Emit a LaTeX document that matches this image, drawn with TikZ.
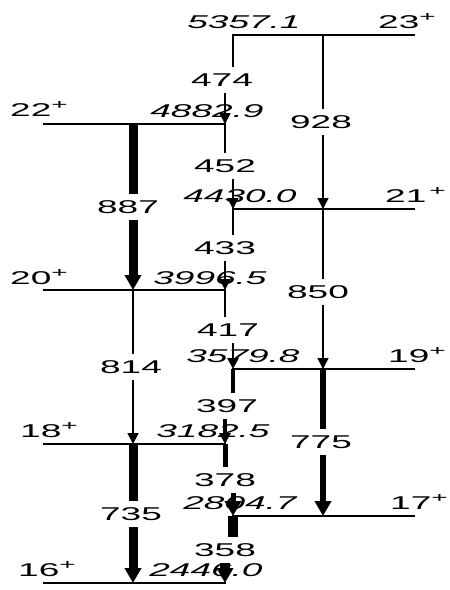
\documentclass[tikz,border=0pt]{standalone}
\usepackage{fontspec}
\setmainfont{Liberation Sans}[FakeStretch=2.0]
\usetikzlibrary{arrows.meta}
\newcommand\upplus{\raisebox{7pt}{\fontsize{14}{14}\selectfont +}}
\begin{document}
\begin{tikzpicture}[x=1pt,y=-1pt,
  lev/.style={line width=1.3pt},
  en/.style={font=\fontsize{18.5}{18}\selectfont\itshape, anchor=base, inner sep=0pt},
  spin/.style={font=\fontsize{18.5}{18}\selectfont, anchor=base west, inner sep=0pt},
  tlab/.style={font=\fontsize{18.5}{18}\selectfont, inner xsep=0pt, inner ysep=6pt, text height=13pt, text depth=0pt},
  tr/.style={line width=#1},
  tr/.default=1.7pt,
  tip/.style={-{Triangle[length=11pt,width=11pt]}},
  tipbig/.style={-{Triangle[length=15pt,width=16pt]}}]
\useasboundingbox (0,0) rectangle (450,590);
% level coordinates
\coordinate (a23) at (232,35);  \coordinate (b23) at (415,35);
\coordinate (a22) at (43,124);  \coordinate (b22) at (226,124);
\coordinate (a21) at (232,209); \coordinate (b21) at (415,209);
\coordinate (a20) at (43,290);  \coordinate (b20) at (226,290);
\coordinate (a19) at (232,369); \coordinate (b19) at (415,369);
\coordinate (a18) at (43,444);  \coordinate (b18) at (226,444);
\coordinate (a17) at (232,516); \coordinate (b17) at (415,516);
\coordinate (a16) at (43,583);  \coordinate (b16) at (226,583);
% transition end points
\coordinate (r23) at (323,35);  \coordinate (r21) at (323,209);
\coordinate (r19) at (323,369); \coordinate (r17) at (323,516);
\coordinate (l22) at (133,124); \coordinate (l20) at (133,290);
\coordinate (l18) at (133,444); \coordinate (l16) at (133,583);
\coordinate (c23) at (233,35);  \coordinate (c22) at (225,124);
\coordinate (c21) at (233,209); \coordinate (c20) at (225,290);
\coordinate (c19) at (233,369); \coordinate (c18) at (225,444);
\coordinate (c17) at (233,516); \coordinate (c16) at (225,583);
% energy labels
\node[en] (e23) at (244,28) {5357.1};
\node[en] (e22) at (207,117) {4882.9};
\node[en] (e21) at (240,202) {4430.0};
\node[en] (e20) at (210,284) {3996.5};
\node[en] (e19) at (243,362) {3579.8};
\node[en] (e18) at (213,437) {3182.5};
\node[en] (e17) at (240,509) {2804.7};
\node[en] (e16) at (206,576) {2446.0};
% spin labels
\node[spin] (s23) at (378,28) {23\upplus};
\node[spin] (s22) at (10,116) {22\upplus};
\node[spin] (s21) at (385,202) {21\,\upplus};
\node[spin] (s20) at (10,284) {20\upplus};
\node[spin] (s19) at (388,362) {19\upplus};
\node[spin] (s18) at (20,437) {18\upplus};
\node[spin] (s17) at (390,509) {17\upplus};
\node[spin] (s16) at (18,576) {16\upplus};
% levels
\foreach \k in {23,22,21,20,19,18,17,16} \draw[lev] (a\k) -- (b\k);
% transition labels
\node[tlab] (g928) at (321,122) {928};
\node[tlab] (g850) at (318,292) {850};
\node[tlab] (g775) at (321,442) {775};
\node[tlab] (g887) at (128,207) {887};
\node[tlab] (g814) at (131,367) {814};
\node[tlab] (g735) at (131,514) {735};
\node[tlab] (g474) at (222,80) {474};
\node[tlab] (g452) at (225,166) {452};
\node[tlab] (g433) at (225,248) {433};
\node[tlab] (g417) at (228,330) {417};
\node[tlab] (g397) at (227,406) {397};
\node[tlab] (g378) at (225,480) {378};
\node[tlab] (g358) at (225,550) {358};
% right column
\draw[tr] (r23) -- (r23 |- g928.north);
\draw[tr,tip] (r21 |- g928.south) -- (r21);
\draw[tr] (r21) -- (r21 |- g850.north);
\draw[tr,tip] (r19 |- g850.south) -- (r19);
\draw[tr=6pt] (r19) -- (r19 |- g775.north);
\draw[tr=6pt,tipbig] (r17 |- g775.south) -- (r17);
% left column
\draw[tr=9pt] (l22) -- (l22 |- g887.north);
\draw[tr=9pt,tipbig] (l20 |- g887.south) -- (l20);
\draw[tr] (l20) -- (l20 |- g814.north);
\draw[tr,tip] (l18 |- g814.south) -- (l18);
\draw[tr=9pt] (l18) -- (l18 |- g735.north);
\draw[tr=9pt,tipbig] (l16 |- g735.south) -- (l16);
% cascade
\draw[tr] (c23) -- (c23 |- g474.north);
\draw[tr,tip] (c22 |- g474.south) -- (c22);
\draw[tr] (c22) -- (c22 |- g452.north);
\draw[tr,tip] (c21 |- g452.south) -- (c21);
\draw[tr] (c21) -- (c21 |- g433.north);
\draw[tr,tip] (c20 |- g433.south) -- (c20);
\draw[tr=2.5pt] (c20) -- (c20 |- g417.north);
\draw[tr=2.5pt,tip] (c19 |- g417.south) -- (c19);
\draw[tr=4pt] (c19) -- (c19 |- g397.north);
\draw[tr=4pt,tip] (c18 |- g397.south) -- (c18);
\draw[tr=5pt] (c18) -- (c18 |- g378.north);
\draw[tr=5pt,tipbig] (c17 |- g378.south) -- (c17);
\draw[tr=10pt] (c17) -- (c17 |- g358.north);
\draw[tr=10pt,tipbig] (c16 |- g358.south) -- (c16);
\end{tikzpicture}
\end{document}
